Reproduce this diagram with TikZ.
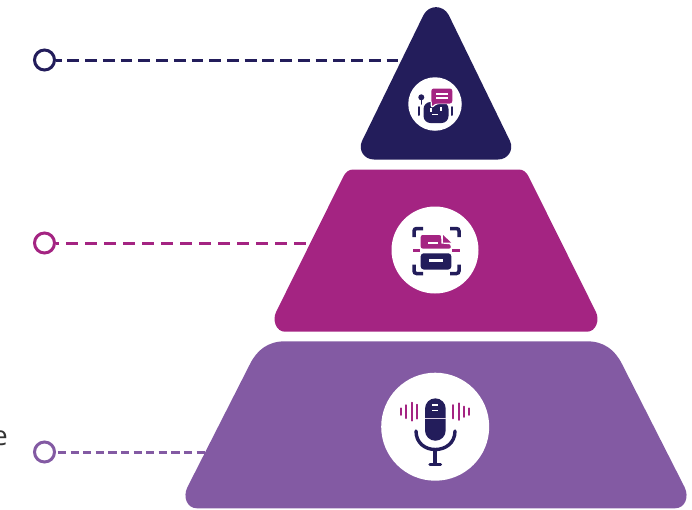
\documentclass[tikz,border=0pt]{standalone}
\usepackage{fontspec}
\setmainfont{Open Sans}
\definecolor{navy}{HTML}{231D5B}
\definecolor{magenta}{HTML}{A42482}
\definecolor{violet}{HTML}{835AA3}
\tikzset{
  tier/.style={fill=#1,draw=none},
  leader/.style={draw=#1,line width=3pt},
  endring/.style={circle,draw=#1,line width=3pt,fill=white,minimum size=20pt,inner sep=0pt},
  disc/.style={circle,fill=white,draw=none,inner sep=0pt},
  ink/.style={line width=#1,draw=navy,line cap=round},
  pink/.style={line width=#1,draw=magenta,line cap=round},
  bracket/.style={line width=3.5pt,draw=navy,line cap=butt,rounded corners=2.5pt},
}
\begin{document}
\begin{tikzpicture}[x=1pt,y=-1pt]
\useasboundingbox (0,0) rectangle (692,509);
% left letter cut by the margin
\node[anchor=base east,inner sep=0pt,font=\fontsize{27}{27}\selectfont,text=black!80] (cutword) at (8,445) {e};
% rings and free ends
\node[endring=navy] (r1) at (44.5,60) {};
\node[endring=magenta] (r2) at (44.5,243) {};
\node[endring=violet] (r3) at (44.5,452) {};
\coordinate (e1) at (399,60);
\coordinate (e2) at (306,243);
\coordinate (e3) at (208,452);
\draw[leader=navy,dash pattern=on 11.8pt off 5.93pt,dash phase=6.3pt] (r1) -- (e1);
\draw[leader=magenta,dash pattern=on 11.7pt off 7.3pt,dash phase=9pt] (r2) -- (e2);
\draw[leader=violet,dash pattern=on 8.3pt off 4.3pt,dash phase=10.7pt] (r3) -- (e3);
% tiers
\fill[tier=navy] (423.5,15) .. controls (429,4.5) and (443,4.5) .. (448.7,15) -- (510,141)
  .. controls (514,150) and (508,159.5) .. (498,159.5) -- (374,159.5)
  .. controls (364,159.5) and (358,150) .. (362,141) -- cycle;
\fill[tier=magenta] (343.3,176.7) .. controls (345.5,172) and (349,169.5) .. (353.3,169.5) -- (518.7,169.5)
  .. controls (523,169.5) and (526.5,172) .. (528.7,176.7) -- (595.8,311.7)
  .. controls (600,320) and (596,331.7) .. (587,331.7) -- (285,331.7)
  .. controls (276,331.7) and (272,320) .. (276.2,311.7) -- cycle;
\fill[tier=violet] (250,364) .. controls (257,350) and (268,341.3) .. (285,341.3) -- (587,341.3)
  .. controls (604,341.3) and (615,350) .. (622,364) -- (684.5,487)
  .. controls (689.5,497) and (685,508.3) .. (675,508.3) -- (197,508.3)
  .. controls (187,508.3) and (182.5,497) .. (187.5,487) -- cycle;
% discs
\node[disc,minimum size=53.5pt] (d1) at (435,104) {};
\node[disc,minimum size=87pt] (d2) at (435,250) {};
\node[disc,minimum size=108pt] (d3) at (435.2,426.7) {};
% robot icon
\fill[navy,rounded corners=7pt] (423.5,102) rectangle (448.5,123);
\draw[ink=2pt] (419.3,107) -- (419.3,115);
\draw[ink=2pt] (452.3,107) -- (452.3,115);
\draw[ink=1.5pt] (421.3,98) -- (421.3,104);
\fill[navy] (421.3,97.3) circle (3pt);
\fill[white] (430,108) rectangle (431.8,111.5);
\fill[white] (440,107) rectangle (441.8,110.5);
\fill[white] (432,114) rectangle (438,115.3);
\draw[white,line width=1.2pt,line join=round,fill=magenta,rounded corners=2.5pt]
  (431.3,92) -- (431.3,108) -- (436.5,103.5) -- (452.3,103.5) -- (452.3,88.5) -- (431.3,88.5) -- cycle;
\fill[magenta,rounded corners=2.5pt] (431.3,88.5) rectangle (452.3,103.5);
\fill[white] (436,93) rectangle (447.5,95);
\fill[white] (436,97) rectangle (447.5,99);
% scanner icon
\draw[bracket] (414,237) -- (414,228.5) -- (423,228.5);
\draw[bracket] (450,228.5) -- (459,228.5) -- (459,237);
\draw[bracket] (414,264.5) -- (414,273.5) -- (423,273.5);
\draw[bracket] (450,273.5) -- (459,273.5) -- (459,264.5);
\fill[magenta,rounded corners=2pt] (420.7,235) -- (441,235) -- (450,244) -- (451.3,248.5) -- (420.7,248.5) -- cycle;
\fill[white] (441,234) -- (441.5,243.5) -- (452,244.5) -- (452,234) -- cycle;
\fill[magenta] (443,235) -- (451,242.5) -- (443,242.5) -- cycle;
\fill[white] (428,241.7) rectangle (438,244.3);
\draw[magenta,line width=2.4pt] (413,250.3) -- (420.3,250.3);
\draw[magenta,line width=2.4pt] (452.3,250.3) -- (459.7,250.3);
\fill[navy,rounded corners=3pt] (420.7,253.3) rectangle (451.3,269.5);
\fill[white] (428.7,258.5) rectangle (443,261.5);
% microphone icon
\fill[navy] (425,408.7) arc (180:360:10.35) -- (445.7,430.4) arc (0:180:10.35) -- cycle;
\draw[white!70!violet,line width=1pt] (425,418.3) -- (445.7,418.3);
\draw[white,line width=1.1pt] (432.3,405) -- (438.3,405);
\draw[white,line width=1.1pt] (432.3,410.7) -- (438.3,410.7);
\draw[ink=3.4pt] (416,431) .. controls (416,443) and (425,449.5) .. (435.3,449.5) .. controls (445.5,449.5) and (455,443) .. (455,431);
\draw[ink=3.4pt,line cap=butt] (435,449.5) -- (435,464);
\draw[ink=3.4pt] (430,464.3) -- (440.5,464.3);
\foreach \x/\h in {401/3.3,406.3/6.5,411.7/9,417/7,453.3/6.7,458.7/8.3,464/5.2,469/3.3}{
  \draw[pink=1.9pt] (\x,411.7-\h) -- (\x,411.7+\h);
}
\end{tikzpicture}
\end{document}
